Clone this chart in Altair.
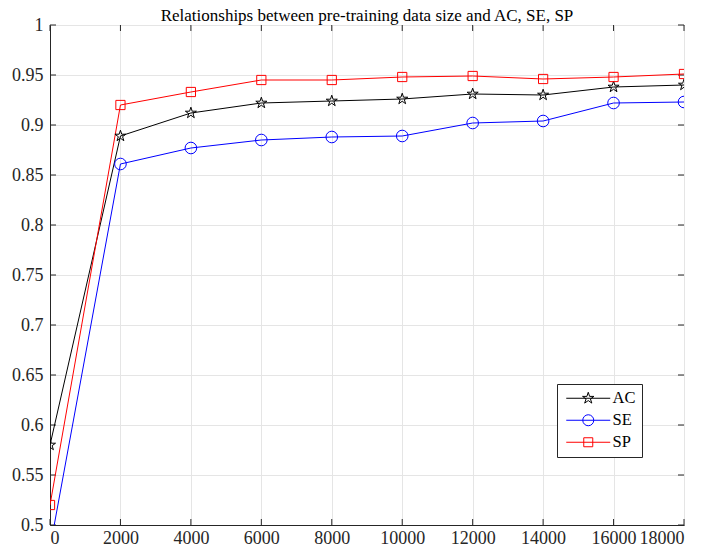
import altair as alt
import pandas as pd

# ---- data ----
sizes = [0, 2000, 4000, 6000, 8000, 10000, 12000, 14000, 16000, 18000]
ac = [0.580, 0.889, 0.912, 0.922, 0.924, 0.926, 0.931, 0.930, 0.938, 0.940]
se = [0.477, 0.861, 0.877, 0.885, 0.888, 0.889, 0.902, 0.904, 0.922, 0.923]
sp = [0.520, 0.920, 0.933, 0.945, 0.945, 0.948, 0.949, 0.946, 0.948, 0.951]
series_names = ["AC", "SE", "SP"]
series_colors = ["#000000", "#0000ff", "#ff0000"]
x_ticks = [0, 2000, 4000, 6000, 8000, 10000, 12000, 14000, 16000, 18000]
y_ticks = [0.5, 0.55, 0.6, 0.65, 0.7, 0.75, 0.8, 0.85, 0.9, 0.95, 1.0]
title_text = "Relationships between pre-training data size and AC, SE, SP"

rows = []
for name, vals in zip(series_names, [ac, se, sp]):
    for s, v in zip(sizes, vals):
        rows.append({"size": s, "value": v, "series": name})
df = pd.DataFrame(rows)
xt_df = pd.DataFrame({"t": x_ticks})
yt_df = pd.DataFrame({"t": y_ticks})

STAR = ("M0,-1L0.2245,-0.309L0.951,-0.309L0.363,0.118L0.588,0.809L0,0.382"
        "L-0.588,0.809L-0.363,0.118L-0.951,-0.309L-0.2245,-0.309Z")
# legend symbols (unit = 5px): line through a marker, shifted right of the symbol origin
LEG_STAR = ("M-1,0H7.8M3.4,-1.2L3.67,-0.37L4.54,-0.37L3.84,0.14L4.11,0.97"
            "L3.4,0.46L2.69,0.97L2.96,0.14L2.26,-0.37L3.13,-0.37Z")
LEG_CIRC = ("M-1,0H7.8M4.5,0A1.1,1.1,0,1,1,2.3,0A1.1,1.1,0,1,1,4.5,0Z")
LEG_SQ = ("M-1,0H7.8M2.5,-0.9H4.3V0.9H2.5Z")

FONT = "Liberation Serif"
TXT = "#262626"
W, H = 634, 500

def axis(values, fmt, pad):
    return alt.Axis(values=values, format=fmt, title=None, labelFont=FONT,
                    labelFontSize=18, labelColor=TXT, gridColor="#e5e5e5",
                    gridWidth=1, domainColor=TXT, domainWidth=1, tickSize=0,
                    labelPadding=pad)

xscale = alt.Scale(domain=[0, 18000], nice=False)
yscale = alt.Scale(domain=[0.5, 1.0], nice=False, zero=False)
xenc = alt.X("size:Q", scale=xscale, axis=axis(x_ticks, "d", 4))
yenc = alt.Y("value:Q", scale=yscale, axis=axis(y_ticks, "~g", 7))
cscale = alt.Scale(domain=series_names, range=series_colors)

base = alt.Chart(df)

def series_line(name, color):
    return base.transform_filter(alt.datum.series == name).mark_line(
        clip=True, strokeWidth=1, color=color).encode(x=xenc, y=yenc)

lines = [series_line(n, c) for n, c in zip(series_names, series_colors)]

pt_ac = base.transform_filter(alt.datum.series == "AC").mark_point(
    clip=True, shape=STAR, size=135, filled=False, strokeWidth=1, color="#000000", opacity=1
).encode(x=xenc, y=yenc)
pt_se = base.transform_filter(alt.datum.series == "SE").mark_point(
    clip=True, shape="circle", size=135, filled=False, strokeWidth=1, color="#0000ff", opacity=1
).encode(x=xenc, y=yenc)
pt_sp = base.transform_filter(alt.datum.series == "SP").mark_point(
    clip=True, shape="square", size=85, filled=False, strokeWidth=1, color="#ff0000", opacity=1
).encode(x=xenc, y=yenc)

# inward ticks on all four sides of the box
xt = alt.X("t:Q", scale=xscale, axis=axis(x_ticks, "d", 4))
yt = alt.Y("t:Q", scale=yscale, axis=axis(y_ticks, "~g", 7))
tick_style = dict(color=TXT, strokeWidth=1)
ticks = [
    alt.Chart(xt_df).mark_rule(**tick_style).encode(x=xt, y=alt.value(H), y2=alt.value(H - 6)),
    alt.Chart(xt_df).mark_rule(**tick_style).encode(x=xt, y=alt.value(0), y2=alt.value(6)),
    alt.Chart(yt_df).mark_rule(**tick_style).encode(y=yt, x=alt.value(0), x2=alt.value(6)),
    alt.Chart(yt_df).mark_rule(**tick_style).encode(y=yt, x=alt.value(W), x2=alt.value(W - 6)),
]

leg = alt.Legend(
    title=None, orient="none", legendX=507, legendY=359,
    labelFont=FONT, labelFontSize=16.5, labelColor="#000000",
    symbolSize=100, symbolStrokeWidth=1, symbolFillColor="transparent",
    symbolOpacity=1, labelOffset=33, padding=6, rowPadding=5,
    fillColor="#ffffff", strokeColor="#262626",
)
legend_layer = base.mark_point(clip=True, opacity=0, filled=False).encode(
    x=xenc, y=yenc,
    color=alt.Color("series:N", scale=cscale, legend=leg),
    shape=alt.Shape("series:N", scale=alt.Scale(domain=series_names,
                                                range=[LEG_STAR, LEG_CIRC, LEG_SQ]),
                    legend=leg),
)

chart = alt.layer(*ticks, *lines, pt_ac, pt_se, pt_sp, legend_layer).properties(
    width=W, height=H,
    title=alt.TitleParams(title_text, font=FONT, fontSize=17, fontWeight="normal",
                          color="#000000", offset=-9, anchor="middle"),
    autosize=alt.AutoSizeParams(type="none"),
    padding={"left": 42, "top": 17, "right": 12, "bottom": 29},
).configure(
    font=FONT
).configure_view(
    stroke="#262626", strokeWidth=1
).configure_legend(
    labelFont=FONT
)

chart.save("out.html", embed_options={"renderer": "svg", "actions": False})
